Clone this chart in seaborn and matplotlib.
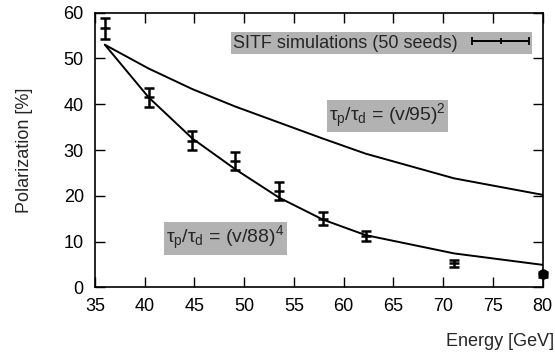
import matplotlib
matplotlib.use("Agg")
import matplotlib.pyplot as plt
from matplotlib.container import ErrorbarContainer
from matplotlib.legend_handler import HandlerErrorbar
import seaborn as sns
import pandas as pd
import numpy as np

# simulation energies (GeV)
energy = [36.0, 40.4, 44.8, 49.1, 53.5, 57.9, 62.2, 71.1, 80.0]

# SITF simulations (50 seeds): polarization and error
sitf_pol = [56.6, 41.5, 32.0, 27.6, 21.0, 15.0, 11.2, 5.2, 2.8]
sitf_err = [2.3, 2.0, 2.1, 1.9, 2.0, 1.4, 1.1, 0.8, 0.5]

# model curves
pol_95sq = [53.0, 47.8, 43.3, 39.5, 36.0, 32.5, 29.2, 23.8, 20.2]
pol_88q = [53.0, 41.5, 32.5, 25.8, 19.6, 14.8, 11.4, 7.4, 4.9]

x_ticks = [35, 40, 45, 50, 55, 60, 65, 70, 75, 80]
y_ticks = [0, 10, 20, 30, 40, 50, 60]

df = pd.DataFrame({
    "Energy": energy * 2,
    "Polarization": pol_95sq + pol_88q,
    "Model": ["95sq"] * len(energy) + ["88q"] * len(energy),
})

sns.set_theme(style="ticks")
plt.rcParams["font.family"] = ["Liberation Sans", "DejaVu Sans"]
plt.rcParams["mathtext.fontset"] = "custom"
plt.rcParams["mathtext.rm"] = "Liberation Sans"
plt.rcParams["mathtext.it"] = "Liberation Sans"

fs = 13
grey = "#b2b2b2"

fig = plt.figure(figsize=(5.55, 3.58), dpi=100)
ax = fig.add_axes([0.171, 0.1975, 0.807, 0.767])

sns.lineplot(data=df, x="Energy", y="Polarization", units="Model",
             estimator=None, color="black", lw=1.4, ax=ax, legend=False)

ax.errorbar(energy[:-1], sitf_pol[:-1], yerr=sitf_err[:-1], fmt="_",
            color="black", ms=7, mew=1.8, elinewidth=1.8, capsize=3.8,
            capthick=1.8, clip_on=False)
ax.errorbar(energy[-1:], sitf_pol[-1:], yerr=sitf_err[-1:], fmt="o",
            color="black", ms=6.5, elinewidth=1.8, capsize=3.8, capthick=1.8,
            clip_on=False, zorder=5)

# legend proxy with horizontal error bar
proxy = ax.errorbar([np.nan], [np.nan], xerr=[1], fmt="|", color="black",
                    ms=5, mew=1.3, elinewidth=1.4, capsize=3, capthick=1.4)
leg = ax.legend([proxy], ["SITF simulations (50 seeds)"], loc="upper right",
                bbox_to_anchor=(0.977, 0.928), markerfirst=False,
                handlelength=3.3, handletextpad=0.7, borderpad=0.12,
                borderaxespad=0, fontsize=fs, frameon=True, fancybox=False,
                handler_map={ErrorbarContainer: HandlerErrorbar(xerr_size=1.6)})
leg.get_frame().set_facecolor(grey)
leg.get_frame().set_edgecolor("none")
leg.get_frame().set_alpha(1)

ax.text(64.4, 37.4, r"$\tau_p/\tau_d$ = (v/95)$^2$", fontsize=14,
        ha="center", va="center",
        bbox=dict(facecolor=grey, edgecolor="none", pad=1.5))
ax.text(48.1, 10.7, r"$\tau_p/\tau_d$ = (v/88)$^4$", fontsize=14,
        ha="center", va="center",
        bbox=dict(facecolor=grey, edgecolor="none", pad=1.5))

ax.set_xlim(35, 80)
ax.set_ylim(0, 60)
ax.set_xticks(x_ticks)
ax.set_yticks(y_ticks)
ax.tick_params(direction="in", length=7, width=1.0, top=True, right=True,
               labelsize=fs, pad=8, colors="black")
for s in ax.spines.values():
    s.set_visible(True)
    s.set_linewidth(1.2)
    s.set_color("black")

ax.set_xlabel("")
ax.set_ylabel("Polarization [%]", fontsize=fs, labelpad=22)
fig.text(0.998, 0.045, "Energy [GeV]", fontsize=fs, ha="right", va="center")

fig.savefig("out.png", dpi=100)
